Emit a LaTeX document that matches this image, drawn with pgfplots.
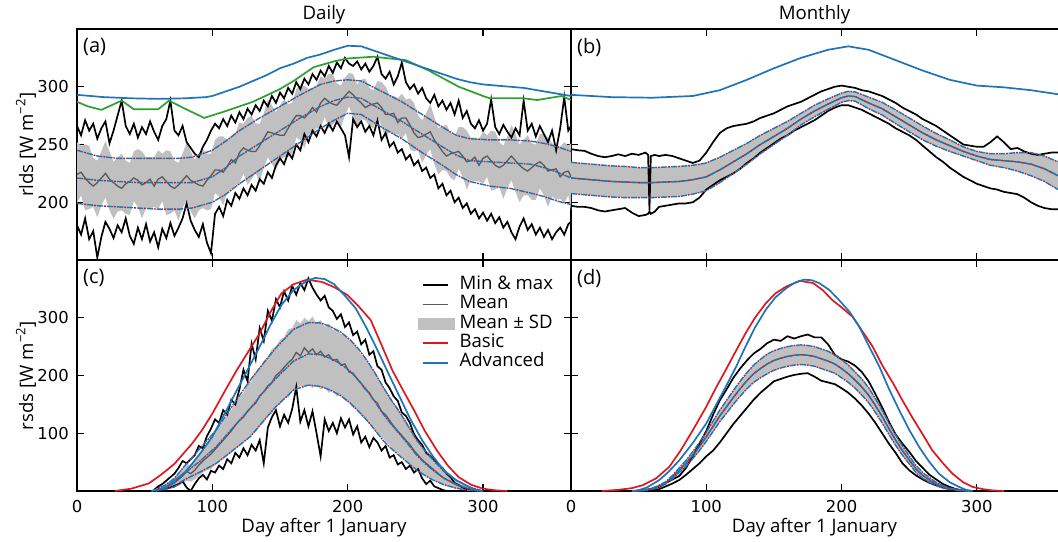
\documentclass[border=0pt]{standalone}
\usepackage{fontspec}
\setmainfont{Open Sans}
\newfontfamily\tickfont{DejaVu Sans}
\usepackage{pgfplots}
\usepackage{pgfplotstable}
\pgfplotsset{compat=1.18}
\usepgfplotslibrary{fillbetween}

\definecolor{cred}{RGB}{222,24,30}
\definecolor{cblue}{RGB}{31,115,185}
\definecolor{cgreen}{RGB}{44,160,44}
\definecolor{cband}{RGB}{192,192,192}
\definecolor{cmean}{RGB}{90,90,90}

% daily rlds: max, min, mean, mean+sd, mean-sd
\pgfplotstableread{
d mx mn mu up lo
0 266 180 224 252 199
3 258 172 226 249 206
6 271 186 221 250 193
9 262 168 217 249 194
12 268 175 214 238 196
15 255 152 217 236 187
18 264 170 221 244 197
21 270 183 225 253 204
24 251 177 220 244 193
27 262 169 217 235 186
30 275 180 214 239 192
33 288 174 212 242 193
36 266 186 216 236 190
39 259 171 218 234 189
42 268 164 221 244 201
45 256 178 219 246 196
48 265 168 215 244 186
51 259 181 217 239 195
54 270 166 220 239 194
57 261 174 214 239 196
60 254 161 220 245 194
63 266 177 222 242 201
66 272 169 218 245 189
69 288 182 214 244 190
72 262 171 212 236 193
75 258 178 215 234 184
78 266 186 219 242 195
81 252 199 223 252 202
84 247 184 219 244 192
87 242 176 217 237 186
90 239 170 215 242 193
93 248 181 214 246 195
96 254 165 219 242 193
99 262 156 223 242 194
102 268 190 228 254 208
105 264 196 228 257 205
108 272 188 226 257 197
111 266 202 231 254 209
114 275 197 237 257 211
117 269 208 234 260 215
120 278 203 243 269 216
123 272 212 247 268 225
126 281 206 245 273 215
129 276 215 244 275 220
132 284 210 244 268 225
135 279 220 249 268 218
138 288 216 255 277 230
141 283 226 261 289 239
144 292 221 260 284 233
147 286 232 259 278 228
150 295 238 258 284 236
153 290 233 258 289 239
156 299 243 264 285 239
159 294 238 270 286 242
162 304 250 275 298 256
165 298 245 275 301 254
168 307 259 273 301 247
171 302 252 277 298 258
174 311 262 282 299 259
177 306 257 278 301 264
180 314 266 286 309 264
183 309 260 290 307 274
186 318 268 287 311 264
189 312 262 285 311 267
192 321 270 284 303 272
195 316 264 288 301 265
198 325 258 292 308 275
201 320 239 296 312 283
204 318 272 293 311 274
207 322 265 289 302 266
210 315 270 286 306 272
213 320 261 282 307 271
216 313 266 284 299 266
219 318 258 285 297 264
222 326 271 286 305 274
225 311 254 282 304 266
228 307 260 276 300 255
231 313 248 276 293 262
234 302 252 277 292 259
237 309 243 269 290 259
240 321 246 273 294 255
243 304 237 273 289 260
246 298 241 267 290 246
249 302 232 260 286 244
252 294 236 256 275 245
255 299 227 257 271 234
258 290 230 259 277 241
261 286 221 261 285 246
264 293 224 254 274 233
267 283 212 249 264 224
270 288 216 244 266 228
273 280 206 240 267 227
276 286 210 242 260 221
279 276 200 243 257 219
282 288 204 244 265 229
285 273 195 240 265 222
288 279 199 235 262 211
291 268 190 236 256 219
294 264 194 239 256 218
297 271 186 232 255 218
300 262 191 238 261 216
303 268 184 240 258 222
306 289 190 236 262 210
309 265 182 232 261 211
312 259 187 230 252 213
315 267 178 232 249 203
318 261 183 236 257 212
321 256 174 240 267 219
324 264 168 236 259 209
327 258 179 232 250 200
330 288 186 229 254 206
333 262 176 227 258 206
336 268 181 230 251 202
339 257 172 233 250 202
342 266 178 235 259 212
345 259 170 232 259 206
348 252 176 227 256 196
351 262 168 228 251 205
354 245 174 229 249 202
357 264 178 222 248 203
360 291 172 226 252 199
363 262 181 227 249 206
365 266 183 222 251 193
}\aT

\pgfplotstableread{
d m u l
0 221 245 199
15 219 240 197
30 218 238 196
45 217 238 195
60 217 238 194
75 217 238 194
85 217 239 195
100 222 245 200
110 230 253 207
120 240 262 216
135 251 273 228
150 262 283 240
165 273 293 252
180 283 302 264
190 288 305 271
200 291 306 277
210 290 305 276
225 280 296 265
240 270 287 255
255 259 276 243
270 248 265 232
280 241 258 224
290 236 255 218
305 235 254 214
320 234 254 212
335 233 253 208
345 230 251 205
355 226 248 201
365 221 244 198
}\aSm

\pgfplotstableread{
d v
0 293
20 291
40 290
60 289.5
80 290
95 291
100 292
110 296
120 300
130 305
140 310
150 316
160 320
170 325
180 328
190 332
200 335.5
210 335
220 331
230 327
240 323
250 319
260 315
270 311
280 307
290 304
300 302
310 301
320 300
330 299
340 297
350 295
365 292
}\aBlue

\pgfplotstableread{
d v
0 287
8 283
18 280
33 288
42 280.5
60 280.5
68 288
78 282
94 273
110 279
130 287
150 298
160 305
175 317
190 322
200 324.5
219 326
243 323
260 314
282 300
300 292
305 290
330 290
340 288.5
358 292
365 288.5
}\aGreen

% monthly rlds
\pgfplotstableread{
d mx mn
0 246 197
5 245 196
10 244.5 196
15 242 195
20 240 193
25 239 192
30 240 193
35 241.5 194
40 240 195
45 242 191
50 241 188
55 243 189
57 241 190
58 193 192
59 240 190
62 241 192
65 240 196
70 241 197
75 240 198
80 238 199
85 236 199
90 234 200
95 236 204
100 243 211
105 252 215
110 260 219
115 264 222
120 266 225
125 267 229
130 268 234
135 270 238
140 273 243
145 275 247
150 277 251
155 280 255
160 283 258
165 285 262
170 287 265
175 290 268
180 293 271
185 296 275
190 298 279
195 300 282
200 301 284
205 300 284
210 299 282
215 297 280
220 296 277
225 294 274
230 292 271
235 289 268
240 286 264
245 282 261
250 279 258
255 276 254
260 272 249
265 269 244
270 266 239
275 262 235
280 258 230
285 254 226
290 250 222
295 249 219
300 248 216
305 248 214
310 252 212
315 257 211
320 252 209
325 246 208
330 247 207
335 244 204
340 242 200
345 241 197
350 242 195
355 243 194
360 243 194
}\bMM

\pgfplotstableread{
d m u l
0 221 234.5 207.5
10 220 233.5 206.5
20 219 232.5 205.5
30 218 231.5 204.5
40 217.5 231 204
50 217 230 204
60 217 230 204
70 217.5 230.5 204.5
80 218 231 205
90 219.5 232 207
100 222 234 210
110 228 239 217
120 235 245 225
130 242 251 233
140 250 258 242
150 257 264 250
160 264 270 258
170 272 277 267
180 279 284 274
190 285 289.5 280.5
200 290.5 294.5 286.5
205 292 296 288
210 291.5 295.5 287.5
220 286 291 281
230 281 286.5 275.5
240 274 280 268
250 267 273 261
260 260 266 254
270 254 259.5 248.5
280 249 254 244
290 244 248 240
300 240 244 236
310 237 242 232
320 236 242 230
330 235 243 227
340 233 243 223
350 229 240 218
360 223 235 211
}\bSm

\pgfplotstableread{
d v
0 293
30 291
60 290.5
90 292
110 297
130 306
150 316
170 325
190 332
205 335
220 332
240 323
260 314
280 306
300 301
320 299.5
340 297
360 293.5
}\bBlue

% daily rsds
\pgfplotstableread{
d mx mn mu up lo
57 2 0 1 2 0
60 8 1 3 6 1
63 12 2 5 9 2
66 18 4 7 13 3
69 24 6 10 17 5
72 30 9 14 22 7
75 40 12 20 31 9
78 52 17 26 38 13
81 48 6 34 47 18
84 55 0 30 44 16
87 62 12 36 52 20
90 78 22 45 64 26
93 74 28 52 72 32
96 95 20 58 82 36
99 108 35 64 90 38
102 124 32 72 104 45
105 118 44 80 110 52
108 140 38 88 122 55
111 132 55 96 130 62
114 158 48 104 140 66
117 150 66 114 152 74
120 176 58 122 162 78
123 210 74 128 170 86
126 190 62 138 186 90
129 255 80 146 190 98
132 228 70 152 206 102
135 282 88 165 212 112
138 260 48 172 226 118
141 312 110 182 232 130
144 295 128 188 246 134
147 332 140 200 250 148
150 318 112 206 262 150
153 346 132 214 266 160
156 330 118 222 280 162
159 355 142 228 282 172
162 340 180 240 296 176
165 360 120 234 290 182
168 348 140 248 300 180
171 368 112 240 294 186
174 352 138 246 302 178
177 340 100 236 290 184
180 330 60 242 296 176
183 338 124 232 284 180
186 318 104 236 290 170
189 312 118 226 280 174
192 298 100 228 278 164
195 306 126 218 272 166
198 284 110 220 270 156
201 292 124 206 262 154
204 270 98 204 256 144
207 276 112 194 248 142
210 254 84 186 236 130
213 262 94 176 230 126
216 236 76 170 218 116
219 242 92 158 210 110
222 216 84 152 196 100
225 210 70 138 186 94
228 188 78 132 172 86
231 178 58 122 166 80
234 164 62 112 152 70
237 156 46 104 144 66
240 136 50 96 130 58
243 130 38 88 124 54
246 118 44 80 110 46
249 98 32 70 104 42
252 88 38 62 90 36
255 80 22 54 80 30
258 66 12 48 70 26
261 60 18 42 64 22
264 54 8 36 54 18
267 46 5 30 46 15
270 40 2 24 38 12
273 30 0 20 32 9
276 24 0 16 25 7
279 14 0 12 19 5
282 10 0 9 14 3
285 6 0 7 10 2
288 3 0 5 7 1
291 1 0 3 5 0
294 0 0 2 3 0
297 0 0 1 2 0
300 0 0 0 1 0
}\cT

\pgfplotstableread{
d m u l
55 0 0 0
65 6 10 3
72 14 22 7
79 30 42 19
91 52 74 33
103 77 106 48
115 109 148 70
128 143 192 94
138 172 222 122
147 195 248 146
160 225 280 175
171 237.5 291.5 183.6
180 236 291 181
187 230 285 175
195 220 275 165
202 207 261.5 152
208 192 246 138
214 175 227 123
220 155 205 106
226 134 181 88
232 116 158 74
239 97 134.5 59.5
245 80 111 48
251 62 88 36
257 48 70 27
263 36 54 19
271 22 34 11
280 12 19 5
290 4 7 1
300 0 0 0
}\cSm

\pgfplotstableread{
d v
28 0
40 4
53 13
62 28
72 47
85 82
92 104
100 134
109 172
118 209
127 243
135 273
143 310
151 342
160 358
170 366
181 362
190 353
200 339
208 320
217 296
225 253
233 209
241 174
249 140
257 104
266 70
274 44
282 24
291 11
300 4
310 1
318 0
}\cRed

\pgfplotstableread{
d v
58 0
65 6
72 18
80 33
85 47
92 68
100 94
110 138
118 174
127 214
135 250
143 288
151 322
160 348
170 364
176 369
183 367
190 358
198 338
206 316
214 282
222 244
230 204
238 165
246 126
255 88
263 60
271 36
280 19
288 9
296 0
}\cBlue

% monthly rsds
\pgfplotstableread{
d mx mn m u l
45 0 0 0 0 0
50 1 0 0.5 1 0
55 2 0 1.5 2 1
60 4 1 4 5 3
65 7 3 8 10 6
70 14 8 14 16 12
75 20 13 24 27 21
80 26 19 36 40 32
85 40 28 48 53 43
90 60 38 62 68 56
95 82 48 77 84 70
100 104 60 94 102 86
105 132 70 112 121 103
110 157 84 130 140 120
115 176 100 146 157 135
120 196 116 162 174 150
125 212 130 177 190 164
130 226 144 191 205 177
135 238 158 203 218 188
140 246 170 212 228 196
145 256 180 220 237 203
150 262 190 226 243 209
155 260 194 230 247 213
160 268 198 233 250 216
165 264 201 235 252 218
170 268 203 236 253 219
175 271 204 235 252 218
180 266 198 233 250 216
185 266 191 229 246 212
190 254 188 225 242 208
195 236 185 220 236 204
200 228 178 212 228 196
205 224 170 203 218 188
210 217 160 192 206 178
215 206 148 180 194 166
220 190 134 166 179 153
225 168 118 148 160 136
230 145 100 129 140 118
235 120 82 108 118 98
240 98 66 88 97 79
245 82 48 70 78 62
250 68 36 54 61 47
255 52 27 38 44 32
260 40 20 27 32 22
265 28 14 19 23 15
270 20 10 12 15 9
275 12 6 7 9 5
280 7 3 4 5 3
285 3 1 2 3 1
290 1 0 1 1 0
295 0 0 0 0 0
}\dT

\pgfplotstableread{
d v
23 0
35 2
45 5
53 10
63 22
72.7 42
81 70
90 105
100 146
107 178
114.5 210
122 243
129 273
136 300
144 325
151 342
159 354
169 364
179 360
186 348
193 331
200 318
208 302
215 278
223 250
230 218
238 187
245 157
252 128.5
260 98
267 70.6
275 48
282 30
290 15
297 7
305 3
312 1
320 0
}\dRed

\pgfplotstableread{
d v
48 0
56 6
65 18.5
72 33
80 53
90 83
100 117
107 148
114.5 181
122 215
129 250
136 283
144 314
151 335
159 351
165 360
172 366
178 365
183.5 360
191 348
198 331
206 310
213 285
220 252
228 215
235 177
242.6 140
250 106
257.4 76
265 50
272 30
280 15
287 7
292 2
297 0
}\dBlue

\pgfplotsset{
  panel/.style={
    scale only axis, anchor=south west, height=115.5pt,
    xtick={0,100,200,300},
    tick align=inside, major tick length=3.3pt,
    every tick/.style={black, line width=0.6pt},
    axis line style={black, line width=0.8pt},
    tick label style={font=\tickfont\fontsize{8.2}{10}\selectfont},
    /pgf/number format/assume math mode=true,
    xticklabel shift=1pt, yticklabel shift=0.6pt,
    every axis x label/.style={at={(axis description cs:0.5,-0.1805)}, anchor=base, font=\fontsize{9.3}{11}\selectfont},
    every axis y label/.style={at={(axis description cs:-0.1032,0.5)}, rotate=90, anchor=center, font=\fontsize{9.3}{11}\selectfont},
    every axis title shift=0pt,
    title style={font=\fontsize{9.3}{11}\selectfont, at={(0.5,1)}, anchor=base, yshift=4.5pt},
  },
  leftp/.style={panel, width=247pt, xmin=0, xmax=365},
  rightp/.style={panel, width=243.5pt, xmin=0, xmax=360, yticklabels={}, axis y line*=left},
  mm/.style={black, line width=0.85pt},
  mean/.style={cmean, line width=0.65pt},
  dashb/.style={cblue, line width=0.7pt, dash pattern=on 3.2pt off 1.8pt},
  dotr/.style={cred, line width=0.7pt, dash pattern=on 0.9pt off 4.1pt, dash phase=1.35pt},
  smoothr/.style={cred, line width=0.85pt},
  smoothb/.style={cblue, line width=0.85pt},
}

\newcommand{\band}[3]{%
  \addplot[name path=bu, draw=none] table[x=d,y=#2]{#1};
  \addplot[name path=bl, draw=none] table[x=d,y=#3]{#1};
  \addplot[fill=cband, draw=none] fill between[of=bu and bl];}
\newcommand{\sdlines}[1]{%
  \addplot[dashb] table[x=d,y=m]{#1};
  \addplot[dotr] table[x=d,y=m]{#1};
  \addplot[dashb] table[x=d,y=u]{#1};
  \addplot[dotr] table[x=d,y=u]{#1};
  \addplot[dashb] table[x=d,y=l]{#1};
  \addplot[dotr] table[x=d,y=l]{#1};}
\newcommand{\plab}[1]{\node[anchor=north west, inner sep=0pt, xshift=2.85pt, yshift=-4.65pt, font=\fontsize{10}{12}\selectfont] at (rel axis cs:0,1) {#1};}

\begin{document}
\begin{tikzpicture}
% (a) daily rlds
\begin{axis}[leftp, at={(0pt,115.5pt)}, ymin=150, ymax=350, ytick={200,250,300},
  xticklabels={}, title={Daily}, ylabel={rlds [W m\textsuperscript{−2}]}]
\band{\aT}{up}{lo}
\addplot[mm] table[x=d,y=mx]{\aT};
\addplot[mm] table[x=d,y=mn]{\aT};
\addplot[mean] table[x=d,y=mu]{\aT};
\sdlines{\aSm}
\addplot[cgreen, line width=0.85pt] table[x=d,y=v]{\aGreen};
\addplot[smoothb] table[x=d,y=v]{\aBlue};
\plab{(a)}
\end{axis}
% (b) monthly rlds
\begin{axis}[rightp, at={(247pt,115.5pt)}, ymin=150, ymax=350, ytick={200,250,300},
  xticklabels={}, title={Monthly}]
\band{\bSm}{u}{l}
\addplot[mm] table[x=d,y=mx]{\bMM};
\addplot[mm] table[x=d,y=mn]{\bMM};
\addplot[mean] table[x=d,y=m]{\bSm};
\sdlines{\bSm}
\addplot[smoothb] table[x=d,y=v]{\bBlue};
\plab{(b)}
\end{axis}
% (c) daily rsds
\begin{axis}[leftp, at={(0pt,0pt)}, ymin=0, ymax=400, ytick={100,200,300},
  xlabel={Day after 1 January}, ylabel={rsds [W m\textsuperscript{−2}]},
  legend image code/.code={\draw[#1] (0pt,0pt) -- (12.6pt,0pt);},
  legend style={at={(rel axis cs:0.6897,0.935)}, anchor=north west, draw=none, fill=none,
    inner sep=0pt, row sep=0pt, column sep=2.5pt, font=\fontsize{9.3}{11}\selectfont,
    nodes={inner sep=0pt, text height=6.9pt, text depth=2.8pt}},
  legend cell align=left]
\addlegendimage{black, line width=0.85pt}
\addlegendentry{Min \& max}
\addlegendimage{cmean, line width=0.85pt}
\addlegendentry{Mean}
\addlegendimage{legend image code/.code={\fill[cband] (-2.2pt,-2.9pt) rectangle (15.6pt,2.9pt);}}
\addlegendentry{Mean ± SD}
\addlegendimage{cred, line width=0.85pt}
\addlegendentry{Basic}
\addlegendimage{cblue, line width=0.85pt}
\addlegendentry{Advanced}
\band{\cT}{up}{lo}
\addplot[mm] table[x=d,y=mx]{\cT};
\addplot[mm] table[x=d,y=mn]{\cT};
\addplot[mean] table[x=d,y=mu]{\cT};
\sdlines{\cSm}
\addplot[smoothr] table[x=d,y=v]{\cRed};
\addplot[smoothb] table[x=d,y=v]{\cBlue};
\plab{(c)}
\end{axis}
% (d) monthly rsds
\begin{axis}[rightp, at={(247pt,0pt)}, ymin=0, ymax=400, ytick={100,200,300},
  xlabel={Day after 1 January}]
\band{\dT}{u}{l}
\addplot[mm] table[x=d,y=mx]{\dT};
\addplot[mm] table[x=d,y=mn]{\dT};
\addplot[mean] table[x=d,y=m]{\dT};
\sdlines{\dT}
\addplot[smoothr] table[x=d,y=v]{\dRed};
\addplot[smoothb] table[x=d,y=v]{\dBlue};
\plab{(d)}
\end{axis}
\pgfresetboundingbox
\path[use as bounding box] (-38.5pt,-25pt) rectangle (490.5pt,245.5pt);
\end{tikzpicture}
\end{document}
